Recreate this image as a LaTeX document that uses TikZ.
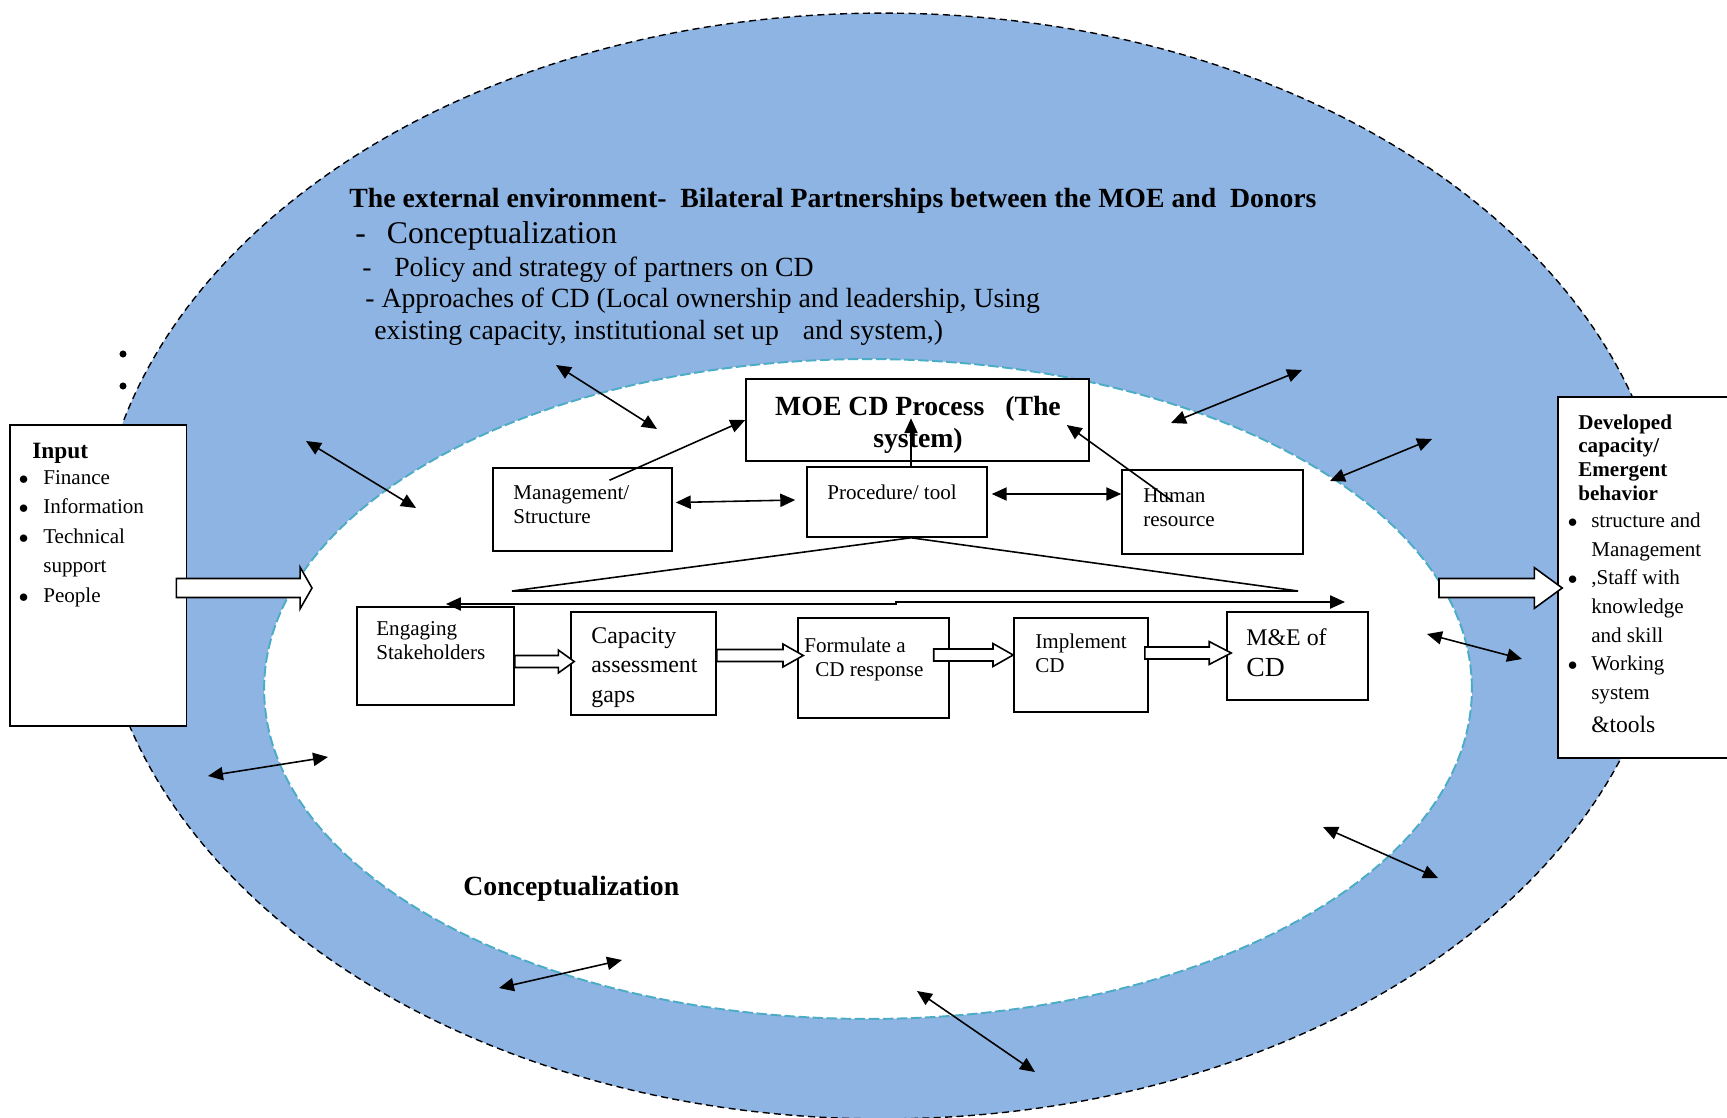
\documentclass[tikz,border=0pt]{standalone}
\usepackage{fontspec}
\setmainfont{Liberation Serif}
\usetikzlibrary{arrows.meta,shapes.geometric,calc}
\definecolor{envblue}{HTML}{8EB4E3}
\definecolor{rimteal}{HTML}{4BACC6}
\newcommand{\textrows}[1]{\begin{tabular}[t]{@{}l@{}}#1\end{tabular}}
\newcommand{\bulletrows}[2]{\begin{tabular}[t]{@{}l@{\hspace{#1}}l@{}}#2\end{tabular}}
\newcommand{\listdot}{{\fontsize{10.5}{12}\selectfont$\bullet$}}

\begin{document}
\begin{tikzpicture}[
    x=0.02cm, y=-0.02cm,
    box/.style={rectangle, draw, fill=white, line width=0.9pt, inner sep=0pt},
    txt/.style={inner sep=0pt, anchor=base west, font=\fontsize{12}{13.8}\selectfont},
    head/.style={inner sep=0pt, anchor=base west, font=\fontsize{15.8}{18}\selectfont\bfseries},
    body/.style={inner sep=0pt, anchor=base west, font=\fontsize{15.8}{18}\selectfont},
    dotmark/.style={circle, fill, inner sep=0pt, minimum size=4pt},
    arrow/.style={-{Triangle[length=8.5pt,width=7.5pt]}, line width=0.9pt},
    dblarrow/.style={{Triangle[length=8.5pt,width=7.5pt]}-{Triangle[length=8.5pt,width=7.5pt]}, line width=0.9pt},
    fatarrow/.style n args={3}{draw, fill=white, line width=0.9pt,
      to path={let \p1=(\tikztostart), \p2=(\tikztotarget) in
        (\x1,\y1+#1) -- (\x2-#3,\y1+#1) -- (\x2-#3,\y1+#2) -- (\x2,\y1)
        -- (\x2-#3,\y1-#2) -- (\x2-#3,\y1-#1) -- (\x1,\y1-#1) -- cycle}}
  ]
    \useasboundingbox (0,0) rectangle (1727,1118);

    % Rings: external environment and the system
    \node[ellipse, draw, dash pattern=on 4pt off 2.5pt, line width=0.8pt, fill=envblue,
          minimum width=31.48cm, minimum height=22.12cm, inner sep=0pt] (outer) at (883,566) {};
    \node[ellipse, draw=rimteal, dash pattern=on 6pt off 2pt, line width=1.1pt, fill=white,
          minimum width=24.16cm, minimum height=13.2cm, inner sep=0pt] (inner) at (868,689) {};

    \node[dotmark] (dot1) at (123,354) {};
    \node[dotmark] (dot2) at (123,386) {};

    % External environment text
    \node[head] (ext) at (349,208) {The external environment-\ \ Bilateral Partnerships between the MOE and\ \ Donors};
    \node[body, font=\fontsize{18}{21}\selectfont] (conc) at (355,244) {-\hspace{12pt}Conceptualization};
    \node[body] (pol) at (362,277) {-\hspace{12.9pt}Policy and strategy of partners on CD};
    \node[body] (appr) at (365,308) {- Approaches of CD (Local ownership and leadership, Using};
    \node[body] (exist) at (374,339) {existing capacity, institutional set up\hspace{13.6pt}and system,)};
    \node[head] (conc2) at (463,895) {Conceptualization};

    % Input
    \node[box, minimum width=3.53cm, minimum height=6.02cm] (input) at (98.3,575.5) {};
    \node[txt, font=\fontsize{13.3}{16}\selectfont\bfseries] (inhead) at (32,458) {Input};
    \node[txt, font=\fontsize{12}{16.8}\selectfont] (inlist) at (18.4,484.3)
      {\bulletrows{8.5pt}{\listdot & Finance\\ \listdot & Information\\ \listdot & Technical\\ & support\\ \listdot & People}};

    % Output
    \node[box, minimum width=4.04cm, minimum height=7.22cm] (dev) at (1659,577.5) {};
    \node[txt, font=\fontsize{12}{13.6}\selectfont\bfseries] (devhead) at (1578,429)
      {\textrows{Developed\\capacity/\\Emergent\\behavior}};
    \node[txt, font=\fontsize{12}{16.3}\selectfont] (devlist) at (1567.4,527.5)
      {\bulletrows{7.9pt}{\listdot & structure and\\ & Management\\ \listdot & ,Staff with\\ & knowledge\\ & and skill\\ \listdot & Working\\ & system\\[2.6pt] & {\fontsize{13.4}{16.3}\selectfont\&tools}}};

    % The system
    \node[box, minimum width=6.86cm, minimum height=1.64cm] (moe) at (917.5,420) {};
    \node[txt, anchor=base, font=\fontsize{15.8}{18.1}\selectfont\bfseries] (moetxt) at (918,416)
      {\begin{tabular}[t]{@{}c@{}}MOE CD Process\hspace{11.9pt}(The\\system)\end{tabular}};
    \node[box, minimum width=3.58cm, minimum height=1.66cm] (mgmt) at (582.5,509.5) {};
    \node[txt] (mgmttxt) at (513,499) {\textrows{Management/\\Structure}};
    \node[box, minimum width=3.6cm, minimum height=1.4cm] (proc) at (897,502) {};
    \node[txt] (proctxt) at (827,499) {Procedure/ tool};
    \node[box, minimum width=3.62cm, minimum height=1.68cm] (human) at (1212.5,512) {};
    \node[txt] (humantxt) at (1143,502) {\textrows{Human\\resource}};

    % CD process steps
    \node[box, minimum width=3.14cm, minimum height=1.96cm] (eng) at (435.5,656) {};
    \node[txt] (engtxt) at (376,635) {\textrows{Engaging\\Stakeholders}};
    \node[box, minimum width=2.9cm, minimum height=2.06cm] (cap) at (643.5,663.5) {};
    \node[txt, font=\fontsize{13.6}{17}\selectfont] (captxt) at (591,643) {\textrows{Capacity\\assessment\\gaps}};
    \node[box, minimum width=3.02cm, minimum height=2cm] (form) at (873.5,668) {};
    \node[txt] (formtxt) at (804,652) {\textrows{Formulate a\\\hspace*{6.2pt}CD response}};
    \node[box, minimum width=2.68cm, minimum height=1.88cm] (impl) at (1081,665) {};
    \node[txt] (impltxt) at (1035,648) {\textrows{Implement\\CD}};
    \node[box, minimum width=2.82cm, minimum height=1.76cm] (mande) at (1297.5,656) {};
    \node[txt, font=\fontsize{13.6}{18.1}\selectfont] (mandetxt) at (1246,645)
      {\textrows{M\&E of\\{\fontsize{15.7}{18}\selectfont CD}}};

    % Block arrows
    \coordinate (intip) at (312,588);
    \draw[fatarrow={5.4pt}{11.9pt}{6.8pt}] ($(input.east)+(-11,12.5)$) to (intip);
    \coordinate (outtail) at (1439,588);
    \draw[fatarrow={5.4pt}{11.6pt}{15.9pt}] (outtail) to ($(dev.west)+(5,0)$);
    \draw[fatarrow={3.4pt}{6.5pt}{9pt}] ($(eng.east)+(0,5.5)$) to ($(cap.west)+(4,0)$);
    \draw[fatarrow={3.4pt}{6.5pt}{11.5pt}] ($(cap.east)+(0,-8)$) to ($(form.west)+(6,0)$);
    \draw[fatarrow={3.4pt}{6.5pt}{11.5pt}] ($(form.east)+(-16,-13)$) to (impl.west);
    \draw[fatarrow={3.4pt}{6.5pt}{12.5pt}] ($(impl.east)+(-4,-12)$) to ($(mande.west)+(5,0)$);

    % Links inside the system
    \draw[arrow] ($(mgmt.north)+(27,13)$) -- (moe.west);
    \draw[arrow] ($(proc.north)+(14,0)$) -- ++(0,-48);
    \draw[arrow] ($(human.north)+(-40,32)$) -- ($(moe.east)+(-23,5)$);
    \draw[dblarrow] ($(mgmt.east)+(3,-7)$) -- ($(proc.west)+(-11,-2)$);
    \draw[dblarrow] ($(proc.east)+(4,-8)$) -- ($(human.west)+(0,-18)$);

    \coordinate (tl) at (512,591);
    \coordinate (tr) at (1298,591);
    \draw[line width=0.9pt] ($(proc.south)+(14,0)$) -- (tl) -- (tr) -- cycle;

    \coordinate (wl) at (446,604);
    \coordinate (wr) at (1345,602);
    \draw[dblarrow] (wl) -- ++(450,0) -- ++(0,-2) -- (wr);

    % Interaction across the environment
    \foreach \n/\a/\b in {1/{556,365}/{657,429}, 2/{306,441}/{416,508}, 3/{1171,423}/{1302,370},
                          4/{1330,481}/{1432,439}, 5/{1427,634}/{1522,659}, 6/{208,776}/{328,757},
                          7/{1323,827}/{1438,878}, 8/{499,988}/{622,960}, 9/{917,991}/{1035,1072}} {
      \coordinate (ba\n) at (\a);
      \coordinate (bb\n) at (\b);
      \draw[dblarrow] (ba\n) -- (bb\n);
    }
\end{tikzpicture}
\end{document}
